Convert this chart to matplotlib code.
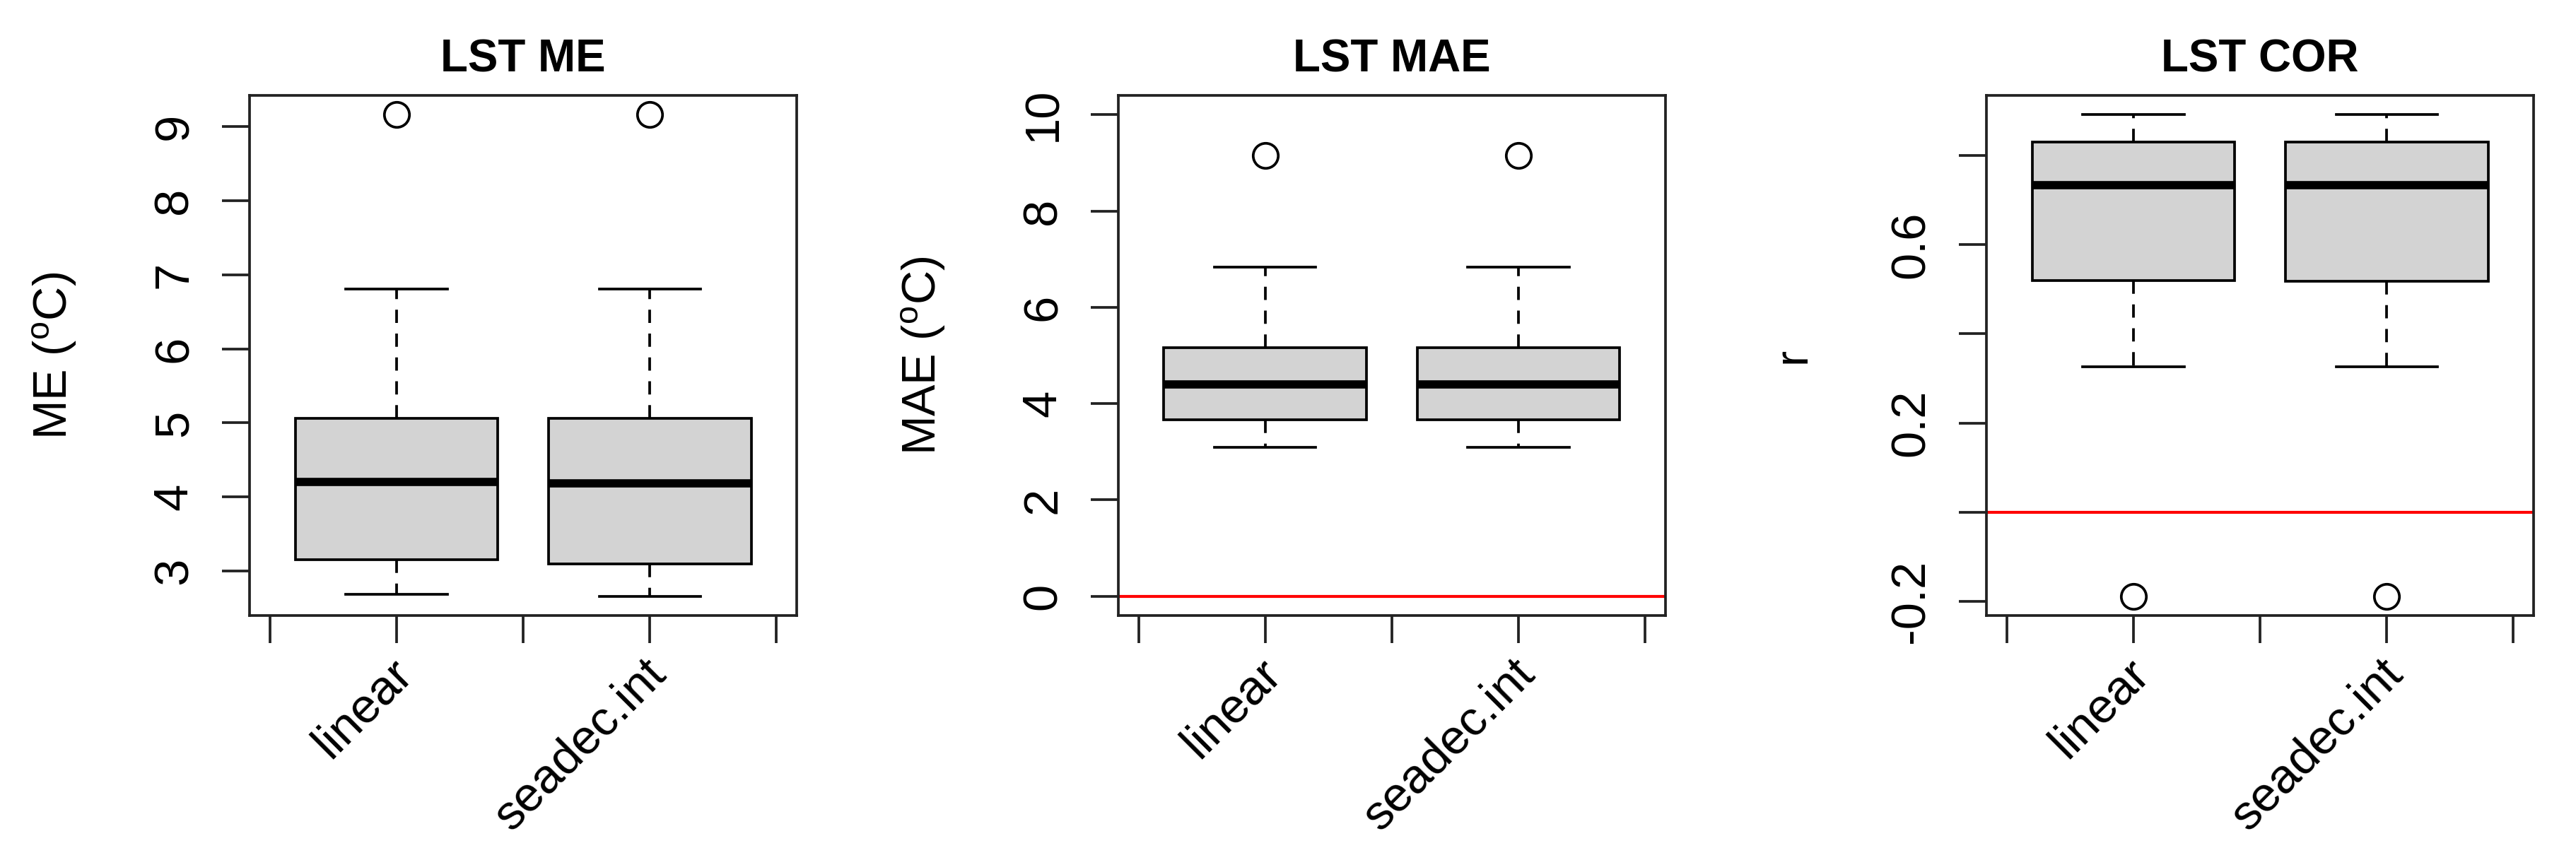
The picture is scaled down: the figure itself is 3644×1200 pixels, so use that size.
import matplotlib
matplotlib.use("Agg")
import matplotlib.pyplot as plt
from matplotlib.transforms import ScaledTranslation

plt.rcParams['font.family'] = ['Liberation Sans', 'DejaVu Sans']
plt.rcParams['mathtext.fontset'] = 'custom'
plt.rcParams['mathtext.rm'] = 'Liberation Sans'

methods = ['linear', 'seadec.int']

# boxplot stats: [linear, seadec.int]
me_whislo = [2.69, 2.66]
me_q1 = [3.15, 3.10]
me_med = [4.20, 4.18]
me_q3 = [5.06, 5.06]
me_whishi = [6.81, 6.81]
me_fliers = [[9.16], [9.16]]

mae_whislo = [3.09, 3.09]
mae_q1 = [3.66, 3.66]
mae_med = [4.40, 4.40]
mae_q3 = [5.16, 5.16]
mae_whishi = [6.84, 6.84]
mae_fliers = [[9.16], [9.16]]

cor_whislo = [0.326, 0.326]
cor_q1 = [0.520, 0.518]
cor_med = [0.733, 0.733]
cor_q3 = [0.829, 0.830]
cor_whishi = [0.891, 0.891]
cor_fliers = [[-0.188], [-0.188]]

AX_COL = '#222222'


def make_stats(whislo, q1, med, q3, whishi, fliers):
    stats = []
    for i in range(len(methods)):
        stats.append({'whislo': whislo[i], 'q1': q1[i], 'med': med[i],
                      'q3': q3[i], 'whishi': whishi[i],
                      'fliers': fliers[i], 'label': methods[i]})
    return stats


def r_range(lo, hi):
    # R pads the axis range by 4% on each side
    pad = (hi - lo) * 0.04
    return lo - pad, hi + pad


def draw_panel(fig, ax, stats, title, ylabel, yticks, ytlabels, ylim, zero_line):
    ax.bxp(stats, positions=[1, 2], widths=0.8, capwidths=0.4,
           patch_artist=True, manage_ticks=False,
           boxprops=dict(facecolor='#d3d3d3', edgecolor='black', linewidth=0.9),
           medianprops=dict(color='black', linewidth=2.8, solid_capstyle='butt'),
           whiskerprops=dict(color='black', linewidth=0.9, linestyle=(0, (5, 4))),
           capprops=dict(color='black', linewidth=0.9),
           flierprops=dict(marker='o', markersize=8.5, markerfacecolor='none',
                           markeredgecolor='black', markeredgewidth=0.9))
    if zero_line:
        ax.axhline(0, color='#ff0000', linewidth=1.0, zorder=1)
    ax.set_xlim(0.42, 2.58)
    ax.set_ylim(*ylim)
    ax.set_xticks([0.5, 1, 1.5, 2, 2.5])
    ax.set_xticklabels(['', methods[0], '', methods[1], ''])
    ax.set_yticks(yticks)
    ax.set_yticklabels(ytlabels)
    ax.tick_params(axis='both', length=9.4, width=0.9, color=AX_COL,
                   labelsize=16.5)
    ax.tick_params(axis='y', pad=8.4)
    ax.tick_params(axis='x', pad=8.0)
    for lab in ax.get_yticklabels():
        lab.set_rotation(90)
        lab.set_va('center')
        lab.set_ha('right')
    shift = ScaledTranslation(12 / 300, 0, fig.dpi_scale_trans)
    for lab in ax.get_xticklabels():
        lab.set_rotation(45)
        lab.set_ha('right')
        lab.set_va('center')
        lab.set_rotation_mode('anchor')
        lab.set_transform(lab.get_transform() + shift)
    for sp in ax.spines.values():
        sp.set_color(AX_COL)
        sp.set_linewidth(0.9)
    ax.set_title(title, fontsize=15.3, fontweight='bold', pad=8)
    ax.set_ylabel(ylabel, fontsize=16)
    ax.yaxis.set_label_coords(-0.313, 0.5)


fig = plt.figure(figsize=(3644 / 300, 1200 / 300), dpi=300)
lefts = [353, 1582, 2810]
axes = [fig.add_axes([l / 3644, (1200 - 871) / 1200, 774 / 3644, 736 / 1200])
        for l in lefts]

me_lim = r_range(min(me_whislo), max(f[0] for f in me_fliers))
draw_panel(fig, axes[0], make_stats(me_whislo, me_q1, me_med, me_q3, me_whishi, me_fliers),
           'LST ME', r'ME ($\mathregular{^o}$C)',
           [3, 4, 5, 6, 7, 8, 9], ['3', '4', '5', '6', '7', '8', '9'],
           me_lim, False)

draw_panel(fig, axes[1], make_stats(mae_whislo, mae_q1, mae_med, mae_q3, mae_whishi, mae_fliers),
           'LST MAE', r'MAE ($\mathregular{^o}$C)',
           [0, 2, 4, 6, 8, 10], ['0', '2', '4', '6', '8', '10'],
           r_range(0, 10), True)

cor_lim = r_range(min(f[0] for f in cor_fliers), max(cor_whishi))
draw_panel(fig, axes[2], make_stats(cor_whislo, cor_q1, cor_med, cor_q3, cor_whishi, cor_fliers),
           'LST COR', 'r',
           [-0.2, 0.0, 0.2, 0.4, 0.6, 0.8], ['-0.2', '', '0.2', '', '0.6', ''],
           cor_lim, True)

fig.savefig('out.png', dpi=300)
